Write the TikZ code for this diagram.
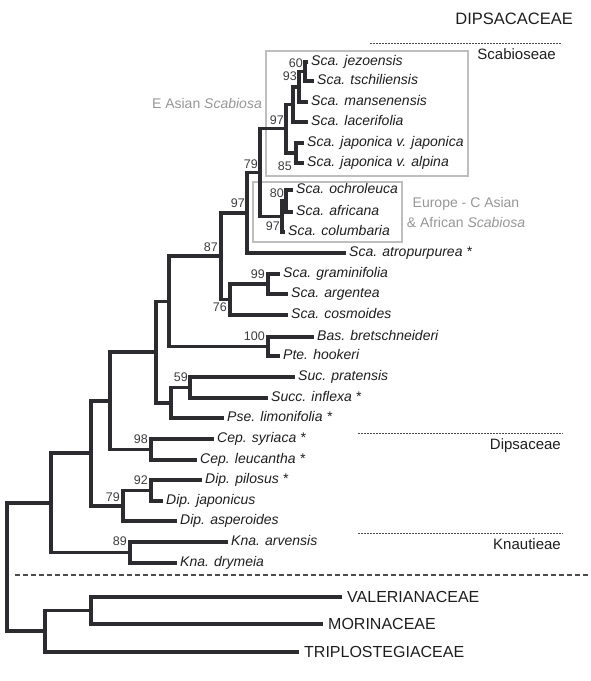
\documentclass[tikz,border=0pt]{standalone}
\usepackage{fontspec}
\setmainfont{Liberation Sans}
\usetikzlibrary{calc}

\definecolor{treeclr}{RGB}{44,44,48}
\definecolor{txtclr}{RGB}{30,30,30}
\definecolor{bsclr}{RGB}{60,60,60}
\definecolor{grouptxt}{RGB}{150,150,150}
\definecolor{boxclr}{RGB}{190,190,190}

% clade: name, x of the node, upper child, lower child
\newcommand{\clade}[4]{%
  \path let \p1=(#3), \p2=(#4) in ({#2pt},{0.5*(\y1+\y2)}) coordinate (#1);
  \draw[branch] (#3) -| (#1) |- (#4);
}

\begin{document}
\begin{tikzpicture}[
    x=1pt, y=-1pt,
    branch/.style={draw=treeclr, line width=3.6pt},
    leaf/.style={anchor=west, inner xsep=3pt, inner ysep=0pt, text height=9.5pt, text depth=3pt, text=txtclr, font=\fontsize{14}{16}\selectfont\itshape},
    famleaf/.style={leaf, inner xsep=5pt, text height=11pt, text depth=0.5pt, font=\fontsize{16}{18}\selectfont},
    famlabel/.style={anchor=east, inner sep=0pt, text=txtclr, font=\fontsize{16.5}{18}\selectfont},
    bs/.style={anchor=east, inner sep=0pt, text=bsclr, font=\fontsize{12.5}{14}\selectfont},
    tribe/.style={anchor=east, inner sep=0pt, text=txtclr, font=\fontsize{15}{17}\selectfont},
    grp/.style={inner sep=0pt, text=grouptxt, font=\fontsize{14}{20}\selectfont},
    grpbox/.style={draw=boxclr, line width=2.2pt},
    sep/.style={draw=treeclr!85, line width=1pt, dash pattern=on 1.6pt off 1.4pt},
    cut/.style={draw=treeclr!85, line width=1.3pt, dash pattern=on 4.5pt off 3.5pt}
]
    \useasboundingbox (0,0) rectangle (591,681);

    % group boxes
    \draw[grpbox] (266,51) rectangle (468,176);
    \draw[grpbox] (253,182) rectangle (402,242);

    % taxa
    \node[leaf] (jez)  at (308,62)  {Sca. jezoensis};
    \node[leaf] (tsch) at (314,81)  {Sca. tschiliensis};
    \node[leaf] (mans) at (308,102) {Sca. mansenensis};
    \node[leaf] (lac)  at (308,122) {Sca. lacerifolia};
    \node[leaf] (japj) at (304,143) {Sca. japonica v. japonica};
    \node[leaf] (japa) at (304,163) {Sca. japonica v. alpina};
    \node[leaf] (och)  at (293,190) {Sca. ochroleuca};
    \node[leaf] (afr)  at (293,212) {Sca. africana};
    \node[leaf] (col)  at (285,232) {Sca. columbaria};
    \node[leaf] (atro) at (346,253) {Sca. atropurpurea *};
    \node[leaf] (gram) at (280,274) {Sca. graminifolia};
    \node[leaf] (arg)  at (288,294) {Sca. argentea};
    \node[leaf] (cos)  at (288,315) {Sca. cosmoides};
    \node[leaf] (bas)  at (314,337) {Bas. bretschneideri};
    \node[leaf] (pte)  at (280,356) {Pte. hookeri};
    \node[leaf] (pra)  at (295,377) {Suc. pratensis};
    \node[leaf] (inf)  at (268,398) {Succ. inflexa *};
    \node[leaf] (pse)  at (224,418) {Pse. limonifolia *};
    \node[leaf] (syr)  at (214,439) {Cep. syriaca *};
    \node[leaf] (leu)  at (197,460) {Cep. leucantha *};
    \node[leaf] (pil)  at (202,480) {Dip. pilosus *};
    \node[leaf] (jpn)  at (163,501) {Dip. japonicus};
    \node[leaf] (asp)  at (177,521) {Dip. asperoides};
    \node[leaf] (arv)  at (228,542) {Kna. arvensis};
    \node[leaf] (dry)  at (177,563) {Kna. drymeia};
    \node[famleaf] (val) at (342,597) {VALERIANACEAE};
    \node[famleaf] (mor) at (323,624) {MORINACEAE};
    \node[famleaf] (tri) at (299,652) {TRIPLOSTEGIACEAE};

    % clades
    \clade{n60}{305}{jez}{tsch}
    \clade{n93}{299}{n60}{mans}
    \clade{nlac}{293}{n93}{lac}
    \clade{n85}{296}{japj}{japa}
    \clade{n97a}{286}{nlac}{n85}
    \clade{n80}{286}{och}{afr}
    \clade{n97b}{282}{n80}{col}
    \clade{n79}{260}{n97a}{n97b}
    \clade{n97c}{247}{n79}{atro}
    \clade{n99}{268}{gram}{arg}
    \clade{n76}{230}{n99}{cos}
    \clade{n87}{221}{n97c}{n76}
    \clade{n100}{268}{bas}{pte}
    \clade{nbas}{169}{n87}{n100}
    \clade{n59}{190}{pra}{inf}
    \clade{nsuc}{171}{n59}{pse}
    \clade{nmid}{156}{nbas}{nsuc}
    \clade{n98}{151}{syr}{leu}
    \clade{ncep}{110}{nmid}{n98}
    \clade{n92}{151}{pil}{jpn}
    \clade{n79d}{123}{n92}{asp}
    \clade{ndip}{91}{ncep}{n79d}
    \clade{n89}{130}{arv}{dry}
    \clade{nfam}{51}{ndip}{n89}
    \clade{nvm}{91}{val}{mor}
    \clade{nout}{45}{nvm}{tri}
    \clade{nroot}{7}{nfam}{nout}

    % bootstrap values
    \node[bs] (b60)  at (303,63)  {60};
    \node[bs] (b93)  at (297,76)  {93};
    \node[bs] (b97a) at (284,120) {97};
    \node[bs] (b85)  at (292,166) {85};
    \node[bs] (b79)  at (258,164) {79};
    \node[bs] (b80)  at (284,193) {80};
    \node[bs] (b97b) at (280,226) {97};
    \node[bs] (b97c) at (245,203) {97};
    \node[bs] (b87)  at (218,247) {87};
    \node[bs] (b99)  at (265,274) {99};
    \node[bs] (b76)  at (227,307) {76};
    \node[bs] (b100) at (265,336) {100};
    \node[bs] (b59)  at (188,377) {59};
    \node[bs] (b98)  at (148,439) {98};
    \node[bs] (b92)  at (148,480) {92};
    \node[bs] (b79d) at (120,497) {79};
    \node[bs] (b89)  at (127,541) {89};

    % group names
    \node[grp, anchor=east] (easia) at (262,103) {E Asian \textit{Scabiosa}};
    \node[grp, align=center] (europe) at (466,212) {Europe - C Asian\\\& African \textit{Scabiosa}};

    % family and tribes
    \node[famlabel] (dipsacaceae) at (573,19) {DIPSACACEAE};
    \node[tribe] (scabioseae) at (556,54)  {Scabioseae};
    \node[tribe] (dipsaceae)  at (561,446) {Dipsaceae};
    \node[tribe] (knautieae)  at (561,544) {Knautieae};
    \draw[sep] (370,43)  -- (562,43);
    \draw[sep] (358,433) -- (563,433);
    \draw[sep] (358,533) -- (563,533);
    \draw[cut] (15,575) -- (588,575);
\end{tikzpicture}
\end{document}
